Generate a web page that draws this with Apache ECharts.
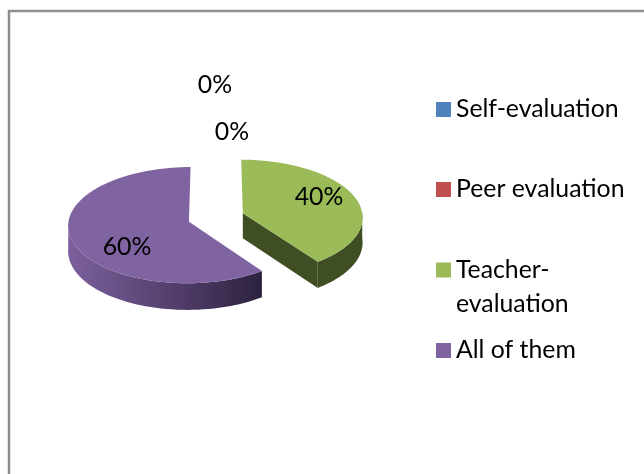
<!DOCTYPE html>
<html>
<head>
<meta charset="utf-8">
<style>
html, body { margin: 0; padding: 0; background: #fff; }
#main { width: 644px; height: 474px; }
</style>
<script src="https://cdn.jsdelivr.net/npm/echarts@6/dist/echarts.min.js"></script>
</head>
<body>
<div id="main"></div>
<script>
var categories = ['Self-evaluation', 'Peer evaluation', 'Teacher-evaluation', 'All of them'];
var values = [0, 0, 40, 60];
var total = values.reduce(function (a, b) { return a + b; }, 0);

var colors = ['#4F81BD', '#C0504D', '#9BBB59', '#8064A2'];
var fontName = 'Lato';
var fontSize = 24.8;

// pie drawing settings
var cx = 216, cy = 217.5, R = 120, squash = 0.48, persp = 0.06, depth = 25, explode = 0.236;
var labelPos = [[215, 85], [232, 132], [319, 197], [127, 247]];
var legendCenter = [109, 189, 287, 350];

// unit pie coords -> screen. wy is positive towards the viewer
function project(wx, wy, drop) {
    var s = 1 + persp * wy;
    return [cx + wx * R * s, cy + wy * R * squash * s + drop * s];
}

function sideFill(i) {
    if (i == 3) {
        return new echarts.graphic.LinearGradient(68, 0, 262, 0, [
            { offset: 0, color: '#7C609D' },
            { offset: 0.5, color: '#56416F' },
            { offset: 1, color: '#2D2240' }
        ], true);
    }
    return '#3F4E23';
}

function renderSlice(i, params, api) {
    var value = api.value(0);
    var before = 0;
    for (var k = 0; k < i; k++) before += values[k];
    var a0 = before / total * Math.PI * 2;
    var a1 = (before + value) / total * Math.PI * 2;
    var children = [];

    if (value > 0) {
        var mid = (a0 + a1) / 2;
        var ox = Math.sin(mid) * explode, oy = -Math.cos(mid) * explode;
        var top = [], steps = 90;
        var wall = [];
        for (var n = 0; n <= steps; n++) {
            var a = a0 + (a1 - a0) * n / steps;
            var wx = ox + Math.sin(a), wy = oy - Math.cos(a);
            top.push(project(wx, wy, 0));
            // only the front part of the rim can be seen
            if (Math.cos(a) < 0.02) wall.push([wx, wy]);
        }
        var side = wall.map(function (p) { return project(p[0], p[1], 0); });
        wall.reverse().forEach(function (p) { side.push(project(p[0], p[1], depth)); });
        children.push({ type: 'polygon', shape: { points: side }, style: { fill: sideFill(i) } });

        // cut face looking at the viewer, only for the slice on the right
        if (i == 2) {
            var end = [ox + Math.sin(a1), oy - Math.cos(a1)];
            children.push({
                type: 'polygon',
                shape: { points: [project(ox, oy, 0), project(end[0], end[1], 0), project(end[0], end[1], depth), project(ox, oy, depth)] },
                style: { fill: '#3F4E23' }
            });
        }
        top.unshift(project(ox, oy, 0));
        children.push({ type: 'polygon', shape: { points: top }, style: { fill: colors[i] } });
    }
    children.push({
        type: 'text',
        style: {
            x: labelPos[i][0], y: labelPos[i][1],
            text: Math.round(value / total * 100) + '%',
            fill: '#000', font: fontSize + 'px ' + fontName,
            align: 'center', verticalAlign: 'middle'
        }
    });
    return { type: 'group', children: children };
}

var chart = echarts.init(document.getElementById('main'), null, { renderer: 'canvas' });

var legends = categories.map(function (name, i) {
    var twoLines = name == 'Teacher-evaluation';
    return {
        data: [name],
        left: 436,
        top: legendCenter[i] - (twoLines ? 34 : 12),
        padding: 0,
        itemWidth: 15,
        itemHeight: twoLines ? 49 : 15,
        // empty tail on the path keeps the square beside the first text line
        icon: twoLines ? 'path://M0 0H15V15H0Z M0 49L0 49' : 'rect',
        selectedMode: false,
        formatter: function (n) { return n.replace('Teacher-', 'Teacher-\n'); },
        textStyle: { color: '#000', fontFamily: fontName, fontSize: fontSize, lineHeight: twoLines ? 34 : 24 }
    };
});

var option = {
    animation: false,
    backgroundColor: '#fff',
    legend: legends,
    graphic: [
        { type: 'rect', shape: { x: 9, y: 11, width: 700, height: 600 }, style: { fill: 'none', stroke: '#8E8E8E', lineWidth: 2.5 }, silent: true }
    ],
    series: categories.map(function (name, i) {
        return {
            type: 'custom',
            name: name,
            coordinateSystem: 'none',
            silent: true,
            itemStyle: { color: colors[i] },
            data: [[values[i]]],
            renderItem: function (params, api) { return renderSlice(i, params, api); }
        };
    })
};
chart.setOption(option);
</script>
</body>
</html>
